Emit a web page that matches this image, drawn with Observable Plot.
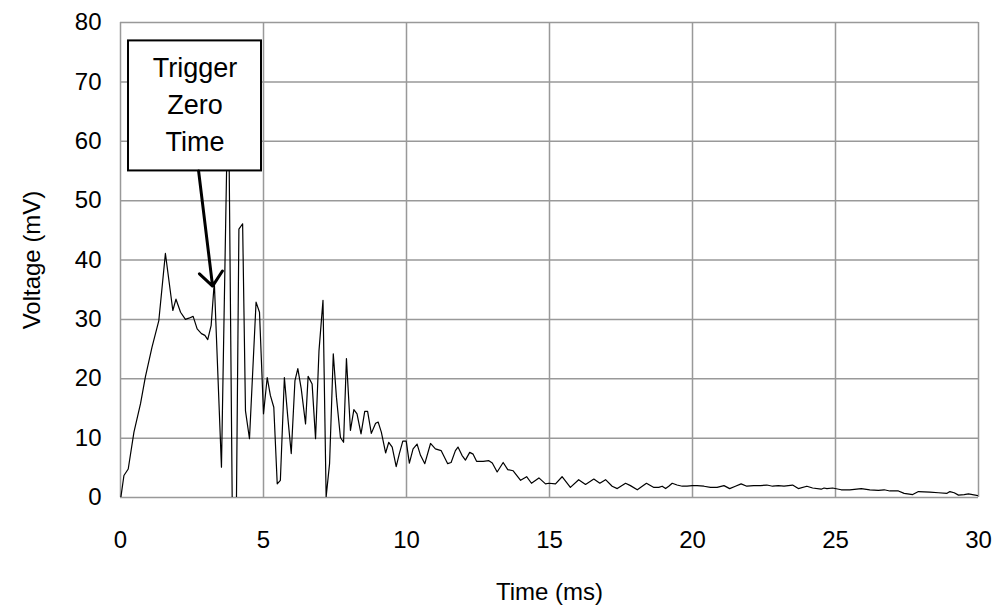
<!DOCTYPE html>
<html>
<head>
<meta charset="utf-8">
<script src="https://cdn.jsdelivr.net/npm/d3@7"></script>
<script src="https://cdn.jsdelivr.net/npm/@observablehq/plot@0.6"></script>
<style>
  html, body { margin: 0; padding: 0; background: #fff; }
  svg { display: block; }
</style>
</head>
<body>
<div id="chart"></div>
<script>
// Time (ms)
const timeMs = [
  0, 0.12, 0.27, 0.47, 0.7, 0.87, 1.1, 1.34, 1.57, 1.83, 1.94, 2.1, 2.27, 2.39, 2.54, 2.68, 2.83, 2.95, 3.05, 3.17, 3.28,
  3.53, 3.77, 3.98, 4.14, 4.27, 4.37, 4.51, 4.74, 4.86, 5.0, 5.13, 5.24, 5.36, 5.48, 5.59, 5.73, 5.85, 5.97, 6.1, 6.2,
  6.32, 6.47, 6.56, 6.7, 6.82, 6.94, 7.08, 7.19, 7.31, 7.44, 7.55, 7.69, 7.8, 7.9, 8.04, 8.16, 8.27, 8.41, 8.54, 8.64,
  8.77, 8.92, 9.01, 9.12, 9.27, 9.38, 9.5, 9.64, 9.75, 9.87, 9.99, 10.1, 10.23, 10.37, 10.49, 10.64, 10.84, 11.01, 11.21,
  11.44, 11.56, 11.71, 11.8, 11.94, 12.06, 12.21, 12.33, 12.45, 12.68, 12.88, 13.0, 13.17, 13.38, 13.54, 13.73, 13.99,
  14.2, 14.37, 14.63, 14.86, 14.98, 15.21, 15.44, 15.73, 16.02, 16.26, 16.55, 16.76, 16.96, 17.19, 17.37, 17.66, 17.83,
  18.07, 18.39, 18.65, 18.82, 18.94, 19.06, 19.17, 19.29, 19.46, 19.64, 19.81, 19.99, 20.16, 20.4, 20.63, 20.86, 21.1,
  21.3, 21.5, 21.7, 21.9, 22.14, 22.37, 22.6, 22.8, 23.0, 23.2, 23.5, 23.7, 24.0, 24.2, 24.5, 24.6, 24.7, 24.9, 25.2,
  25.5, 25.9, 26.2, 26.5, 26.7, 26.9, 27.2, 27.4, 27.7, 27.9, 28.3, 28.6, 28.9, 29.0, 29.15, 29.3, 29.5, 29.65, 30.0
];
// Voltage (mV)
const voltageMv = [
  -0.4, 3.7, 4.8, 11, 15.8, 20.3, 25.3, 29.8, 41.1, 31.5, 33.4, 31.2, 30, 30.2, 30.5, 28.4, 27.6, 27.3, 26.6, 29, 36.3,
  5.1, 72, -40, 45.2, 46.1, 14.6, 9.9, 32.9, 31.2, 14.1, 20.2, 17.2, 15.2, 2.3, 2.9, 20.2, 13.5, 7.4, 19.7, 21.7,
  18.3, 12.4, 20.4, 19.1, 9.9, 24.7, 33.2, 0.1, 5.7, 24.2, 16.9, 10.1, 9.3, 23.4, 11.3, 14.8, 14.1, 10.7, 14.5, 14.5,
  10.8, 12.5, 12.7, 11, 7.5, 9.3, 8.5, 5.2, 7.4, 9.5, 9.5, 5.8, 8.2, 9.0, 7.1, 5.7, 9.1, 8.2, 7.9,
  5.7, 5.9, 7.9, 8.5, 7.1, 6.3, 7.6, 7.3, 6.1, 6.1, 6.2, 5.8, 4.3, 5.9, 4.7, 4.5, 2.9,
  3.5, 2.4, 3.3, 2.3, 2.4, 2.3, 3.5, 1.7, 3.0, 2.2, 3.1, 2.4, 3.0, 1.9, 1.5, 2.4, 2.0,
  1.3, 2.4, 1.7, 1.7, 1.9, 1.5, 1.9, 2.4, 2.1, 1.9, 1.9, 2.0, 2.0, 1.9, 1.7, 1.7, 2.0,
  1.5, 1.9, 2.3, 1.9, 2.0, 2.0, 2.1, 1.9, 2.0, 1.9, 2.1, 1.5, 1.9, 1.6, 1.4, 1.6, 1.5, 1.6, 1.3,
  1.3, 1.5, 1.3, 1.2, 1.3, 1.1, 1.1, 0.7, 0.5, 1.0, 0.9, 0.8, 0.7, 1.0, 0.8, 0.4, 0.5, 0.6, 0.3
];
const xTicks = [0, 5, 10, 15, 20, 25, 30];
const yTicks = [0, 10, 20, 30, 40, 50, 60, 70, 80];
const xLabel = "Time (ms)";
const yLabel = "Voltage (mV)";

// Annotation (in data units)
const noteText = "Trigger\nZero\nTime";
const noteBox = [{x1: 0.28, x2: 4.93, y1: 55.0, y2: 76.9}];
const noteArrow = [{x1: 2.73, y1: 55.0, x2: 3.22, y2: 35.6}];

const data = timeMs.map((t, i) => ({t, v: voltageMv[i]}));

const gridColor = "#999999";
const font = "Liberation Sans, Arial, Helvetica, sans-serif";

const chart = Plot.plot({
  width: 998,
  height: 612,
  marginLeft: 120,
  marginRight: 20,
  marginTop: 22,
  marginBottom: 115,
  style: {fontFamily: font, fontSize: "24px", color: "#000", background: "#fff"},
  x: {domain: [0, 30], ticks: xTicks, label: null},
  y: {domain: [0, 80], ticks: yTicks, label: null},
  marks: [
    Plot.ruleX(xTicks, {stroke: gridColor, strokeWidth: 1.5}),
    Plot.ruleY(yTicks, {stroke: gridColor, strokeWidth: 1.5}),
    Plot.axisX(xTicks, {tickSize: 0, tickPadding: 33, fontSize: 24, fill: "#000", label: null}),
    Plot.axisY(yTicks, {tickSize: 0, tickPadding: 19, fontSize: 24, fill: "#000", label: null}),
    Plot.line(data, {x: "t", y: "v", stroke: "#000", strokeWidth: 1.2, clip: true}),
    Plot.rect(noteBox, {x1: "x1", x2: "x2", y1: "y1", y2: "y2", fill: "#fff", stroke: "#000", strokeWidth: 2}),
    Plot.text([noteText], {
      x: (noteBox[0].x1 + noteBox[0].x2) / 2,
      y: (noteBox[0].y1 + noteBox[0].y2) / 2,
      text: d => d, lineHeight: 1.37, fontSize: 27, fill: "#000", dy: -4
    }),
    Plot.arrow(noteArrow, {x1: "x1", y1: "y1", x2: "x2", y2: "y2", stroke: "#000", strokeWidth: 3, headLength: 9, headAngle: 80}),
    Plot.text([yLabel], {x: 0, y: 40, dx: -88, rotate: -90, fontSize: 24, fill: "#000"}),
    Plot.text([xLabel], {x: 15, y: 0, dy: 95, fontSize: 24, fill: "#000"})
  ]
});
document.getElementById("chart").appendChild(chart);
</script>
</body>
</html>
